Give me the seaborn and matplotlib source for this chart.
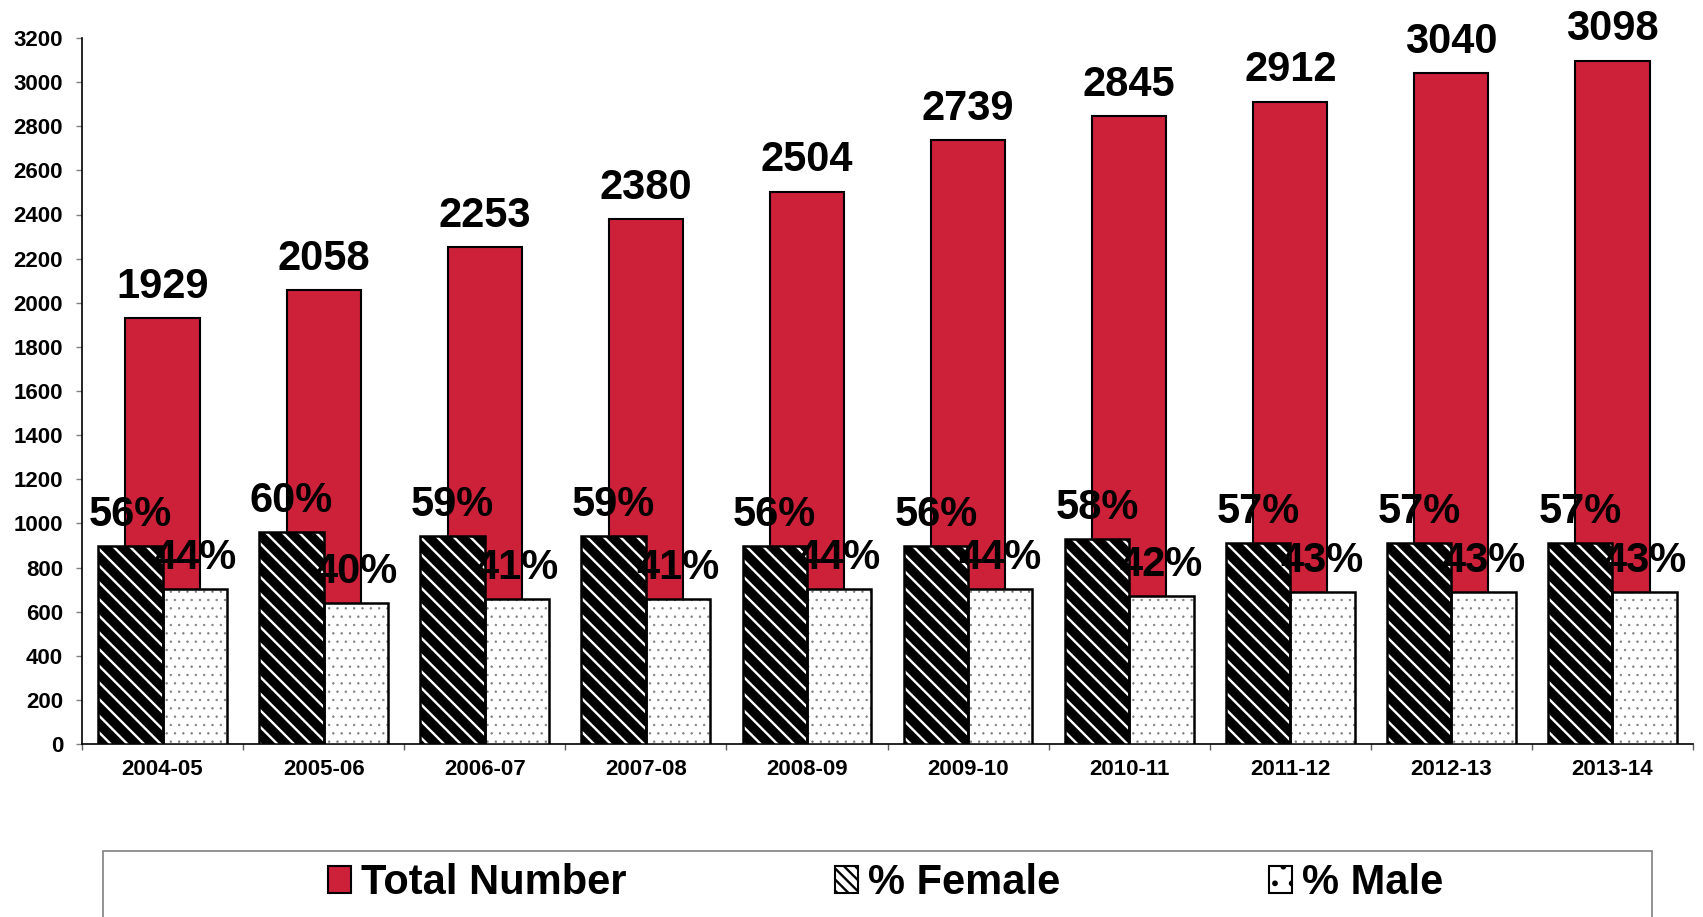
import matplotlib
matplotlib.use("Agg")
import matplotlib.pyplot as plt
from matplotlib.patches import Patch, Rectangle
import seaborn as sns
import pandas as pd

years = ['2004-05', '2005-06', '2006-07', '2007-08', '2008-09',
         '2009-10', '2010-11', '2011-12', '2012-13', '2013-14']
total = [1929, 2058, 2253, 2380, 2504, 2739, 2845, 2912, 3040, 3098]
female = [56, 60, 59, 59, 56, 56, 58, 57, 57, 57]
male = [44, 40, 41, 41, 44, 44, 42, 43, 43, 43]
series_names = ['Total Number', '% Female', '% Male']

sns.set_style("white")
plt.rcParams['font.family'] = ['Liberation Sans', 'DejaVu Sans']
plt.rcParams['font.weight'] = 'bold'
plt.rcParams['text.color'] = 'black'
plt.rcParams['xtick.color'] = 'black'
plt.rcParams['ytick.color'] = 'black'
plt.rcParams['hatch.linewidth'] = 1.7

RED = '#CD2039'

fig = plt.figure(figsize=(17.03, 9.17), dpi=100)
ax = fig.add_axes([82/1703, 1-744/917, (1693-82)/1703, (744-38)/917])

df_tot = pd.DataFrame({'year': years, 'total': total})
sns.barplot(data=df_tot, x='year', y='total', color=RED, width=0.46,
            edgecolor='black', linewidth=1.5, saturation=1, ax=ax)
for p in ax.containers[0]:
    p.set_facecolor(RED)
ax.bar_label(ax.containers[0], labels=[str(v) for v in total], padding=8,
             fontsize=30, fontweight='bold', color='black')

ax.set_ylim(0, 3200)
ax.set_xlim(-0.5, len(years) - 0.5)
ax.set_yticks(range(0, 3201, 200))
ax.set_xlabel('')
ax.set_ylabel('')
for s in ['top', 'right']:
    ax.spines[s].set_visible(False)
for s in ['left', 'bottom']:
    ax.spines[s].set_color('black')
    ax.spines[s].set_linewidth(1.2)
ax.tick_params(axis='y', direction='out', length=4.5, width=1, color='#808080',
               labelsize=16, pad=9, left=True, labelcolor='black')
ax.tick_params(axis='x', which='major', length=0, labelsize=16, pad=11,
               labelcolor='black')
ax.set_xticks([i - 0.5 for i in range(len(years) + 1)], minor=True)
ax.tick_params(axis='x', which='minor', direction='out', length=4.5, width=1,
               color='#606060', bottom=True)
for lab in ax.get_xticklabels() + ax.get_yticklabels():
    lab.set_fontweight('bold')
    lab.set_color('black')

# secondary hidden axis for percentages
ax2 = ax.twinx()
df_pct = pd.DataFrame({
    'year': years * 2,
    'pct': female + male,
    'sex': ['% Female'] * len(years) + ['% Male'] * len(years),
})
sns.barplot(data=df_pct, x='year', y='pct', hue='sex', width=0.8,
            palette=['white', 'white'], saturation=1, edgecolor='black',
            linewidth=1.5, legend=False, ax=ax2)
fem_c, male_c = ax2.containers[0], ax2.containers[1]
for p in fem_c:
    # black face with white diagonal stripes
    p.set_facecolor('black')
    p.set_edgecolor('white')
    p.set_linewidth(0)
    p.set_hatch('\\\\')
    if hasattr(p, 'set_hatch_linewidth'):
        p.set_hatch_linewidth(1.7)
for p in male_c:
    p.set_facecolor('white')
    p.set_edgecolor('#808080')
    p.set_linewidth(0)
    p.set_hatch('..')
    if hasattr(p, 'set_hatch_linewidth'):
        p.set_hatch_linewidth(0.5)
for p in list(fem_c) + list(male_c):
    ax2.add_patch(Rectangle(p.get_xy(), p.get_width(), p.get_height(),
                            fill=False, edgecolor='black', linewidth=1.8,
                            zorder=p.get_zorder() + 0.1))
ax2.bar_label(fem_c, labels=[f'{v}%' for v in female], padding=8,
              fontsize=30, fontweight='bold', color='black')
ax2.bar_label(male_c, labels=[f'{v}%' for v in male], padding=8,
              fontsize=30, fontweight='bold', color='black')
ax2.set_ylim(0, 200)
ax2.set_ylabel('')
ax2.set_yticks([])
for s in ax2.spines.values():
    s.set_visible(False)

# legend box (frame) and legend
fig.patches.append(Rectangle((103/1703, -0.2), (1652-103)/1703, 0.2 + 1-851/917,
                             transform=fig.transFigure, fill=False,
                             edgecolor='#808080', linewidth=1.2))
male_handle = Patch(facecolor='white', edgecolor='black', linewidth=1.5, hatch='.')
if hasattr(male_handle, 'set_hatch_linewidth'):
    male_handle.set_hatch_linewidth(0.5)
fem_handle = Patch(facecolor='white', edgecolor='black', linewidth=1.5, hatch='\\\\\\')
if hasattr(fem_handle, 'set_hatch_linewidth'):
    fem_handle.set_hatch_linewidth(2.2)
handles = [
    Patch(facecolor=RED, edgecolor='black', linewidth=1.5),
    fem_handle,
    male_handle,
]
leg = fig.legend(handles, series_names, loc='center', bbox_to_anchor=(0.52, 0.037),
                 ncol=3, frameon=False, prop={'size': 30, 'weight': 'bold'},
                 handlelength=0.55, handleheight=0.6, handletextpad=0.25,
                 columnspacing=5.0)
for t in leg.get_texts():
    t.set_color('black')

fig.savefig('out.png', dpi=100)
